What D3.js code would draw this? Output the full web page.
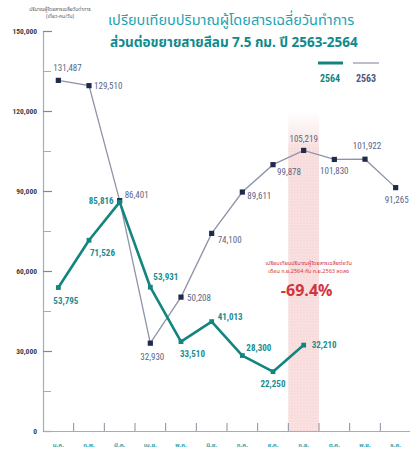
<!DOCTYPE html>
<html>
<head>
<meta charset="utf-8">
<script src="https://cdn.jsdelivr.net/npm/d3@7/dist/d3.min.js"></script>
<style>
  html, body { margin: 0; padding: 0; background: #ffffff; }
  svg { display: block; }
  .thai { font-family: "Noto Sans Thai", "Noto Sans Thai Looped", Loma, Garuda, "Tlwg Typo", "Noto Sans", "DejaVu Sans", sans-serif; }
  .num { font-family: "Liberation Sans Narrow", "Arial Narrow", "Roboto Condensed", "Liberation Sans", sans-serif; }
</style>
</head>
<body>
<div id="chart"></div>
<script>
// ---------- data ----------
const months = ["ม.ค.", "ก.พ.", "มี.ค.", "เม.ย.", "พ.ค.", "มิ.ย.", "ก.ค.", "ส.ค.", "ก.ย.", "ต.ค.", "พ.ย.", "ธ.ค."];
const values2563 = [131487, 129510, 86401, 32930, 50208, 74100, 89611, 99878, 105219, 101830, 101922, 91265];
const values2564 = [53795, 71526, 85816, 53931, 33510, 41013, 28300, 22250, 32210];
const yTicks = [0, 30000, 60000, 90000, 120000, 150000];
const yMinorTicks = [15000, 45000, 75000, 105000, 135000];
const seriesNames = ["2564", "2563"];
const titleLines = ["เปรียบเทียบปริมาณผู้โดยสารเฉลี่ยวันทำการ", "ส่วนต่อขยายสายสีลม 7.5 กม. ปี 2563-2564"];
const yTitleLines = ["ปริมาณผู้โดยสารเฉลี่ยวันทำการ", "(เที่ยว-คน/วัน)"];
const highlightMonth = "ก.ย.";
const noteLines = ["เปรียบเทียบปริมาณผู้โดยสารเฉลี่ยต่อวัน", "เดือน ก.ย.2564 กับ ก.ย.2563 ลดลง"];
const noteValue = "-69.4%";

// ---------- layout (label offsets: dx, dy, anchor) ----------
const off2563 = [
  [-5, -9, "start"], [5, 3, "start"], [5, -3, "start"], [2, 17, "middle"],
  [6, 4, "start"], [6, 10, "start"], [5, 7, "start"], [4, 10, "start"],
  [0, -8, "middle"], [0, 15, "middle"], [2, -10, "middle"], [1, 15, "middle"]
];
const off2564 = [
  [-5, 16, "start"], [1, 16, "start"], [-6, 2, "end"], [3, -7, "start"],
  [-1, 15, "start"], [6, -2, "start"], [4, -5, "start"], [0, 15, "middle"],
  [8, 3, "start"]
];

const W = 410, H = 451;
const svg = d3.select("#chart").append("svg").attr("width", W).attr("height", H);

const x = d3.scaleBand().domain(months).range([43, 411]).paddingInner(0).paddingOuter(0);
const y = d3.scaleLinear().domain([0, 150000]).range([431, 31]);
const cx = m => x(m) + x.bandwidth() / 2;

const teal = "#12857f";
const tealText = "#1a8d92";
const navy = "#1f2a4d";
const navyLine = "#8e93a8";
const navyText = "#5a6688";

// highlight band
const defs = svg.append("defs");
const grad = defs.append("linearGradient").attr("id", "bandGrad").attr("x1", 0).attr("y1", 0).attr("x2", 0).attr("y2", 1);
grad.append("stop").attr("offset", "0%").attr("stop-color", "#f6d3d3").attr("stop-opacity", 0);
grad.append("stop").attr("offset", "12%").attr("stop-color", "#f6d3d3").attr("stop-opacity", 0.7);
grad.append("stop").attr("offset", "100%").attr("stop-color", "#f8dcdc").attr("stop-opacity", 0.85);
const pat = defs.append("pattern").attr("id", "dots").attr("width", 3).attr("height", 3).attr("patternUnits", "userSpaceOnUse");
pat.append("circle").attr("cx", 1).attr("cy", 1).attr("r", 0.6).attr("fill", "#eaa9ad").attr("opacity", 0.5);

svg.append("rect")
  .attr("x", x(highlightMonth)).attr("width", x.bandwidth())
  .attr("y", y(120000)).attr("height", y(0) - y(120000))
  .attr("fill", "url(#bandGrad)");
svg.append("rect")
  .attr("x", x(highlightMonth)).attr("width", x.bandwidth())
  .attr("y", y(108000)).attr("height", y(0) - y(108000))
  .attr("fill", "url(#dots)");

// y axis
const yAxis = d3.axisRight(y).tickValues(yTicks).tickSize(9).tickFormat("");
const gy = svg.append("g").attr("transform", "translate(43,0)").call(yAxis);
gy.select(".domain").attr("stroke", "#a7adb8").attr("stroke-width", 1.2);
gy.selectAll(".tick line").attr("stroke", "#7f8799").attr("stroke-width", 1.2);
const gyMinor = svg.append("g").attr("transform", "translate(43,0)")
  .call(d3.axisRight(y).tickValues(yMinorTicks).tickSize(8).tickFormat(""));
gyMinor.select(".domain").remove();
gyMinor.selectAll(".tick line").attr("stroke", "#a7adb8").attr("stroke-width", 1);

svg.append("g").selectAll("text").data(yTicks).join("text")
  .attr("class", "num")
  .attr("x", 37).attr("y", d => y(d) + 3)
  .attr("text-anchor", "end")
  .attr("font-size", 7.5).attr("font-weight", "bold")
  .attr("fill", "#3a3f4a")
  .text(d => d3.format(",")(d));

// y axis title
svg.append("g").selectAll("text").data(yTitleLines).join("text")
  .attr("class", "thai")
  .attr("x", 60).attr("y", (d, i) => 11 + i * 7)
  .attr("text-anchor", "middle").attr("font-size", 5)
  .attr("fill", "#555b66")
  .text(d => d);

// x axis
const gx = svg.append("g").attr("transform", "translate(0,431)")
  .call(d3.axisTop(x).tickSize(0).tickFormat(""));
gx.select(".domain").attr("stroke", "#a7adb8").attr("stroke-width", 1.2);
gx.selectAll(".tick").remove();
svg.append("g").selectAll("line").data(months.slice(1)).join("line")
  .attr("x1", d => x(d)).attr("x2", d => x(d))
  .attr("y1", 431).attr("y2", 423)
  .attr("stroke", "#8a90a0").attr("stroke-width", 1);
svg.append("g").selectAll("text").data(months).join("text")
  .attr("class", "thai")
  .attr("x", d => cx(d)).attr("y", 447)
  .attr("text-anchor", "middle").attr("font-size", 6).attr("font-weight", "bold")
  .attr("fill", "#3aa4ad")
  .text(d => d);

// lines
const line = d3.line().x((d, i) => cx(months[i])).y(d => y(d));
svg.append("path").datum(values2563)
  .attr("d", line).attr("fill", "none")
  .attr("stroke", navyLine).attr("stroke-width", 1.3);
svg.append("path").datum(values2564)
  .attr("d", line).attr("fill", "none")
  .attr("stroke", teal).attr("stroke-width", 2.6).attr("stroke-linejoin", "round");

// markers
svg.append("g").selectAll("rect").data(values2563).join("rect")
  .attr("x", (d, i) => cx(months[i]) - 2.6).attr("y", d => y(d) - 2.6)
  .attr("width", 5.2).attr("height", 5.2).attr("fill", navy);
svg.append("g").selectAll("rect").data(values2564).join("rect")
  .attr("x", (d, i) => cx(months[i]) - 2.4).attr("y", d => y(d) - 2.4)
  .attr("width", 4.8).attr("height", 4.8).attr("fill", teal);

// value labels
svg.append("g").selectAll("text").data(values2563).join("text")
  .attr("class", "num")
  .attr("x", (d, i) => cx(months[i]) + off2563[i][0])
  .attr("y", (d, i) => y(d) + off2563[i][1])
  .attr("text-anchor", (d, i) => off2563[i][2])
  .attr("font-size", 9).attr("fill", navyText)
  .text(d => d3.format(",")(d));
svg.append("g").selectAll("text").data(values2564).join("text")
  .attr("class", "num")
  .attr("x", (d, i) => cx(months[i]) + off2564[i][0])
  .attr("y", (d, i) => y(d) + off2564[i][1])
  .attr("text-anchor", (d, i) => off2564[i][2])
  .attr("font-size", 9).attr("font-weight", "bold").attr("fill", tealText)
  .text(d => d3.format(",")(d));

// title
svg.append("text").attr("class", "thai")
  .attr("x", 108).attr("y", 25).attr("font-size", 14.5)
  .attr("fill", "#22a3b3").text(titleLines[0]);
svg.append("text").attr("class", "thai")
  .attr("x", 110).attr("y", 47).attr("font-size", 13.5).attr("font-weight", "bold")
  .attr("fill", "#0f8a8c").text(titleLines[1]);

// legend
const legend = svg.append("g");
legend.append("line").attr("x1", 318).attr("x2", 343).attr("y1", 63).attr("y2", 63)
  .attr("stroke", teal).attr("stroke-width", 3);
legend.append("line").attr("x1", 353).attr("x2", 379).attr("y1", 63).attr("y2", 63)
  .attr("stroke", navyLine).attr("stroke-width", 1.2);
legend.append("text").attr("class", "num").attr("x", 330).attr("y", 82)
  .attr("text-anchor", "middle").attr("font-size", 10).attr("font-weight", "bold")
  .attr("fill", teal).text(seriesNames[0]);
legend.append("text").attr("class", "num").attr("x", 366).attr("y", 82)
  .attr("text-anchor", "middle").attr("font-size", 10).attr("font-weight", "bold")
  .attr("fill", "#4d5a80").text(seriesNames[1]);

// annotation
const noteX = cx(highlightMonth) + 5;
svg.append("g").selectAll("text").data(noteLines).join("text")
  .attr("class", "thai")
  .attr("x", noteX).attr("y", (d, i) => 265 + i * 8)
  .attr("text-anchor", "middle").attr("font-size", 5.5)
  .attr("fill", "#d6343e").text(d => d);
svg.append("text").attr("class", "thai")
  .attr("x", noteX - 2).attr("y", 296)
  .attr("text-anchor", "middle").attr("font-size", 16).attr("font-weight", "bold")
  .attr("fill", "#cf3640").text(noteValue);
</script>
</body>
</html>
